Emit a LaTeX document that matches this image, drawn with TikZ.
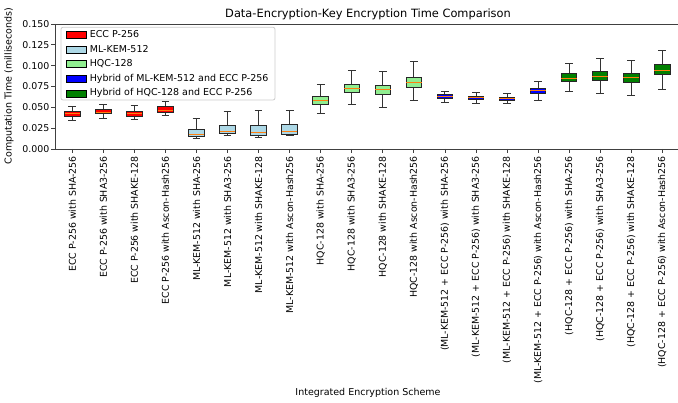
\documentclass[tikz,border=0pt]{standalone}
\usepackage{fontspec}
\setmainfont{DejaVu Sans}
\usepackage{xcolor}
\usepackage{tikz}
\usetikzlibrary{positioning}
\definecolor{eccred}{RGB}{255,0,0}
\definecolor{kemblue}{HTML}{ADD8E6}
\definecolor{hqcgreen}{HTML}{90EE90}
\definecolor{hybkem}{RGB}{0,0,255}
\definecolor{hybhqc}{HTML}{008000}
\definecolor{medorange}{HTML}{FF7F0E}
\definecolor{legframe}{HTML}{CCCCCC}
\tikzset{
    spine/.style={draw=black!75, line width=0.8pt},
    tickmark/.style={draw=black!75, line width=0.8pt},
    whisker/.style={draw=black!80, line width=0.9pt},
    boxbody/.style={draw=black!85, line width=0.9pt},
    median/.style={draw=medorange, line width=0.9pt},
    ticklabel/.style={inner sep=0pt, font=\fontsize{9.4}{11}\selectfont},
    axlabel/.style={inner sep=0pt, font=\fontsize{9.5}{11}\selectfont},
    legpatch/.style={rectangle, draw=black, line width=0.7pt, minimum width=20pt, minimum height=7pt, inner sep=0pt},
    legtext/.style={inner sep=0pt, anchor=west, text height=7pt, text depth=2pt, font=\fontsize{9.5}{11}\selectfont}
}

\begin{document}
\begin{tikzpicture}[
        % --- KHUNG HINH ---
        x=1pt, y=1pt,
        % --- TIEU DE ---
        charttitle/.style={inner sep=0pt, font=\fontsize{11.4}{13}\selectfont}
    ]
    \useasboundingbox (-55,-254) rectangle (623,149);

    % --- TRUC ---
    \draw[spine] (0,125) -- (0,0) -- (623,0);
    \draw[spine] (0,125) -- (623,125);

    % --- TRUC TUNG: vach chia ---
    \begin{scope}[y=833.33pt]
        \foreach \v in {0.000,0.025,0.050,0.075,0.100,0.125,0.150} {
            \draw[tickmark] (0,\v) -- ++(-4.5pt,0);
            \node[ticklabel, anchor=east] (yl\v) at ([xshift=-5.5pt]0,\v) {\v};
        }
    \end{scope}

    % --- HOP DU LIEU ---
    \begin{scope}[x=31.05pt, y=833.33pt, xshift=-13.75pt]
        \foreach \p/\lo/\qa/\md/\qb/\hi/\col in {
            1/0.0348/0.0388/0.0424/0.0452/0.0516/eccred,
            2/0.0372/0.0428/0.0444/0.0480/0.0540/eccred,
            3/0.0360/0.0388/0.0424/0.0456/0.0520/eccred,
            4/0.0404/0.0440/0.0468/0.0508/0.0568/eccred,
            5/0.0124/0.0148/0.0176/0.0236/0.0368/kemblue,
            6/0.0160/0.0188/0.0208/0.0288/0.0448/kemblue,
            7/0.0140/0.0164/0.0200/0.0288/0.0464/kemblue,
            8/0.0160/0.0180/0.0212/0.0300/0.0464/kemblue,
            9/0.0428/0.0540/0.0588/0.0632/0.0772/hqcgreen,
            10/0.0540/0.0676/0.0732/0.0780/0.0940/hqcgreen,
            11/0.0504/0.0656/0.0716/0.0764/0.0928/hqcgreen,
            12/0.0580/0.0740/0.0800/0.0864/0.1052/hqcgreen,
            13/0.0560/0.0604/0.0628/0.0652/0.0696/hybkem,
            14/0.0548/0.0596/0.0616/0.0636/0.0676/hybkem,
            15/0.0548/0.0584/0.0604/0.0620/0.0664/hybkem,
            16/0.0588/0.0668/0.0704/0.0728/0.0812/hybkem,
            17/0.0696/0.0816/0.0852/0.0908/0.1028/hybhqc,
            18/0.0664/0.0820/0.0876/0.0928/0.1084/hybhqc,
            19/0.0644/0.0800/0.0856/0.0908/0.1060/hybhqc,
            20/0.0716/0.0896/0.0944/0.1012/0.1180/hybhqc} {
            \draw[whisker] (\p,\lo) -- (\p,\qa) (\p,\qb) -- (\p,\hi);
            \draw[whisker] (\p-0.125,\lo) -- (\p+0.125,\lo) (\p-0.125,\hi) -- (\p+0.125,\hi);
            \draw[boxbody, fill=\col] (\p-0.25,\qa) rectangle (\p+0.25,\qb);
            \draw[median] (\p-0.25,\md) -- (\p+0.25,\md);
        }

        % --- TRUC HOANH: nhan ---
        \foreach \p/\lab in {
            1/ECC P-256 with SHA-256,
            2/ECC P-256 with SHA3-256,
            3/ECC P-256 with SHAKE-128,
            4/ECC P-256 with Ascon-Hash256,
            5/ML-KEM-512 with SHA-256,
            6/ML-KEM-512 with SHA3-256,
            7/ML-KEM-512 with SHAKE-128,
            8/ML-KEM-512 with Ascon-Hash256,
            9/HQC-128 with SHA-256,
            10/HQC-128 with SHA3-256,
            11/HQC-128 with SHAKE-128,
            12/HQC-128 with Ascon-Hash256,
            13/(ML-KEM-512 + ECC P-256) with SHA-256,
            14/(ML-KEM-512 + ECC P-256) with SHA3-256,
            15/(ML-KEM-512 + ECC P-256) with SHAKE-128,
            16/(ML-KEM-512 + ECC P-256) with Ascon-Hash256,
            17/(HQC-128 + ECC P-256) with SHA-256,
            18/(HQC-128 + ECC P-256) with SHA3-256,
            19/(HQC-128 + ECC P-256) with SHAKE-128,
            20/(HQC-128 + ECC P-256) with Ascon-Hash256} {
            \draw[tickmark] (\p,0) -- ++(0,-4.5pt);
            \node[ticklabel, rotate=90, anchor=east] (xl\p) at ([yshift=-7pt]\p,0) {\lab};
        }
    \end{scope}

    % --- CHU GIAI ---
    \draw[draw=legframe, fill=white, fill opacity=0.8, rounded corners=2pt, line width=0.8pt]
        (6,49) rectangle (220,121.7);
    \node[legpatch, fill=eccred] (leg1) at (21,114) {};
    \node[legpatch, fill=kemblue, below=6.9pt of leg1] (leg2) {};
    \node[legpatch, fill=hqcgreen, below=6.9pt of leg2] (leg3) {};
    \node[legpatch, fill=hybkem, below=6.9pt of leg3] (leg4) {};
    \node[legpatch, fill=hybhqc, below=6.9pt of leg4] (leg5) {};
    \node[legtext, right=3.3pt of leg1] (legt1) {ECC P-256};
    \node[legtext, right=3.3pt of leg2] (legt2) {ML-KEM-512};
    \node[legtext, right=3.3pt of leg3] (legt3) {HQC-128};
    \node[legtext, right=3.3pt of leg4] (legt4) {Hybrid of ML-KEM-512 and ECC P-256};
    \node[legtext, right=3.3pt of leg5] (legt5) {Hybrid of HQC-128 and ECC P-256};

    % --- TIEU DE VA TEN TRUC ---
    \node[charttitle] (title) at (313,135) {Data-Encryption-Key Encryption Time Comparison};
    \node[axlabel] (xlabel) at (313,-244) {Integrated Encryption Scheme};
    \node[axlabel, rotate=90] (ylabel) at (-46,63) {Computation Time (milliseconds)};

\end{tikzpicture}
\end{document}
